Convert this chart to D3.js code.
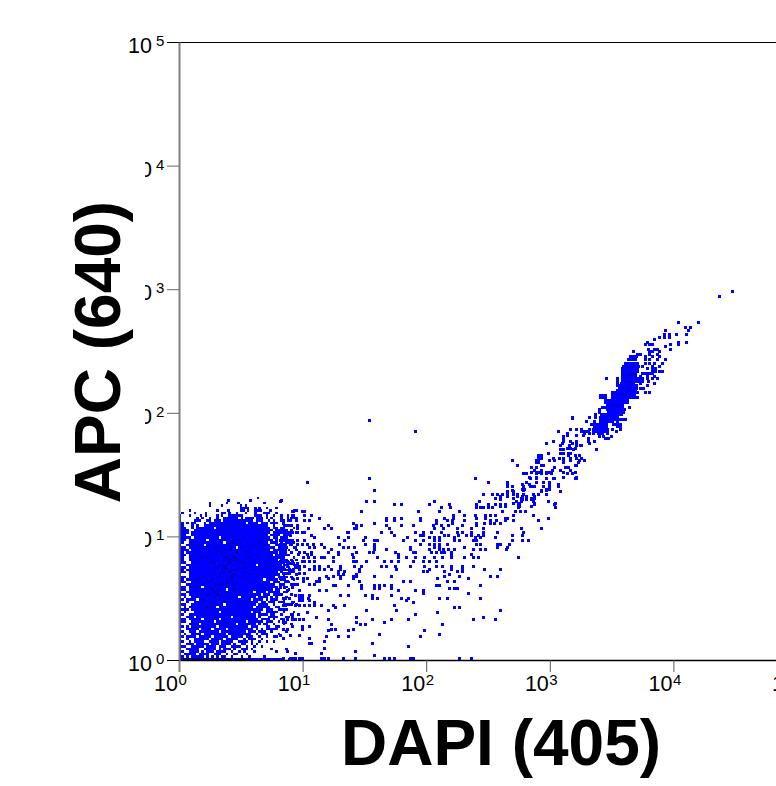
<!DOCTYPE html>
<html>
<head>
<meta charset="utf-8">
<script src="https://cdn.jsdelivr.net/npm/d3@7"></script>
<style>
  html, body { margin: 0; padding: 0; background: #fff; }
  svg { display: block; }
  text { font-family: "Liberation Sans", Arial, sans-serif; fill: #000; }
</style>
</head>
<body>
<div id="chart"></div>
<script>
// every value is log10 of the intensity
// row format: [log APC, log DAPI or [from, to] run of channels, ...]
var xTicks = [0, 1, 2, 3, 4, 5];
var yTicks = [0, 1, 2, 3, 4, 5];
var xTitle = "DAPI (405)";
var yTitle = "APC (640)";

// the big population near the origin
var blobRows = [
  [1.30,.63],[1.28,.39,.57,.82],[1.26,.24,.38,.47,.68],[1.24,.24,.34,.49,.53],
  [1.22,[.49,.55],.61,.64,.70,.78],[1.20,.08,.30,.39,.49,.51,.55,[.61,.65],.73,[.92,.94]],
  [1.18,.02,.12,.21,.34,.36,.40,.46,.53,.61,[.68,.72],.78],
  [1.16,0,.08,.17,.21,.30,.34,[.40,.44],[.46,.50],[.61,.65],.70,.76,.82,.87,.92],
  [1.14,0,.14,.18,.24,.30,[.36,.38],[.40,.46],.50,[.53,.59],[.62,.66],.70,.74,.82,.87,[.90,.94]],
  [1.12,0,[.12,.14],.16,[.22,.24],[.28,.32],[.36,.58],[.62,.66],.72,.76,.82,.87,.94],
  [1.10,[0,.02],.06,[.10,.12],.20,[.24,.34],[.36,.52],[.56,.62],[.66,.70],[.74,.78]],
  [1.08,[0,.02],.10,.14,[.20,.30],[.32,.60],[.62,.70],.76,[.84,.90]],
  [1.06,[0,.04],.10,[.14,.26],[.30,.48],[.50,.72],[.76,.78],[.82,.84],.92],
  [1.04,[0,.06],[.12,.34],[.36,.68],[.70,.74],[.78,.86],.90],
  [1.02,[0,.06],[.10,.44],[.46,.64],[.66,.72],[.76,.80],[.84,.90],.94],
  [1.00,[0,.02],.04,[.10,.70],[.74,.80],[.84,.88]],
  [.98,[0,.08],[.12,.30],[.34,.62],[.64,.72],[.76,.78],[.82,.86]],
  [.96,[0,.04],[.08,.20],[.24,.52],[.54,.74],.78,.82,[.86,.88]],
  [.94,[0,.02],[.08,.34],[.38,.70],[.74,.78],.82,[.86,.92]],
  [.92,0,[.06,.18],[.22,.60],[.62,.72],[.78,.84],.90],
  [.90,[0,.04],[.08,.44],[.48,.66],[.68,.76],[.80,.86],.92],
  [.88,[0,.06],[.10,.28],[.30,.72],[.76,.82],.88,.94],
  [.86,[0,.02],[.06,.14],[.16,.56],[.58,.78],.84,.90],
  [.84,[0,.04],[.08,.38],[.40,.74],[.78,.82],[.86,.88]],
  [.82,[0,.02],[.08,.24],[.26,.70],[.72,.80],.84,.92],
  [.80,[0,.02],[.08,.50],[.52,.78],[.82,.86],.90,.94],
  [.78,[0,.04],[.10,.32],[.34,.74],[.76,.84],.88],
  [.76,0,[.06,.18],[.20,.60],[.64,.80],[.84,.86],[.92,.94]],
  [.74,[0,.04],[.08,.44],[.46,.76],[.78,.84],.88,.94],
  [.72,[0,.02],[.06,.26],[.28,.70],[.72,.82],[.86,.90]],
  [.70,[0,.04],[.08,.14],[.16,.54],[.56,.78],.82,[.88,.92]],
  [.68,0,[.08,.36],[.38,.72],[.74,.80],.84,.94],
  [.66,[0,.04],[.08,.22],[.24,.62],[.64,.76],[.80,.86],.90],
  [.64,[0,.02],[.06,.44],[.46,.66],[.70,.78],[.82,.84],.92],
  [.62,[0,.04],[.10,.30],[.32,.72],[.76,.80],[.86,.88]],
  [.60,0,[.06,.16],[.18,.54],[.56,.68],[.70,.76],.82,[.90,.94]],
  [.58,[0,.04],[.08,.16],[.20,.40],[.42,.70],[.72,.78],[.84,.86]],
  [.56,[0,.02],.04,[.08,.36],[.40,.62],[.64,.74],[.78,.80],.88],
  [.54,0,[.06,.24],[.28,.58],[.62,.68],[.72,.80],[.84,.86]],
  [.52,[0,.04],[.08,.18],[.20,.50],[.52,.64],[.68,.72],[.76,.82],.90],
  [.50,0,.04,[.10,.34],[.36,.46],[.50,.60],[.64,.70],.74,.78,.86],
  [.48,[0,.02],[.06,.12],[.16,.42],[.44,.56],[.60,.66],.70,[.74,.78],.84],
  [.46,0,.06,[.12,.28],[.30,.54],[.56,.62],[.66,.68],[.72,.76],[.80,.84],.92],
  [.44,[0,.04],[.10,.34],[.38,.50],[.52,.60],[.64,.70],.76,[.84,.90],.94],
  [.42,0,.04,[.08,.14],[.16,.28],[.32,.58],[.62,.72],[.78,.80]],
  [.40,[0,.06],[.10,.24],[.26,.42],[.44,.66],[.70,.74],[.80,.86]],
  [.38,0,.04,[.12,.30],[.34,.48],[.50,.56],[.60,.64],[.70,.78],.84,.92],
  [.36,[0,.02],[.08,.20],[.22,.46],[.48,.60],[.64,.70],[.74,.76],.82,.90],
  [.34,0,[.06,.10],[.14,.40],[.44,.60],.64,[.72,.78],.86,.88],
  [.32,[0,.02],.04,[.08,.16],[.20,.30],[.34,.62],[.66,.72],.76,.82,.92],
  [.30,[0,.04],[.10,.26],[.30,.44],[.46,.52],[.56,.66],[.70,.74],.80],
  [.28,0,[.08,.14],[.18,.34],[.36,.44],[.48,.60],.64,[.68,.70],.76,.84,.90],
  [.26,[0,.02],.06,[.10,.16],[.18,.28],[.32,.40],[.42,.54],[.58,.62],[.70,.72],[.78,.80]],
  [.24,0,[.06,.14],[.18,.24],[.28,.36],[.40,.58],.62,.66,[.70,.78]],
  [.22,[0,.02],[.08,.12],[.16,.30],[.34,.44],[.46,.52],[.56,.60],[.64,.68],.74,.86],
  [.20,0,.04,[.10,.16],[.20,.26],[.28,.36],[.40,.44],[.46,.56],.62,[.66,.70],.80],
  [.18,[0,.02],[.06,.12],[.16,.24],[.28,.38],[.42,.50],[.54,.58],.64,.70,[.76,.78]],
  [.16,0,.06,[.12,.22],[.26,.34],[.38,.46],.52,[.56,.60],.66],
  [.14,[0,.02],.08,[.12,.18],[.24,.30],[.34,.42],[.48,.54],.58,.64,.70,.76],
  [.12,0,[.06,.10],[.14,.22],[.26,.30],[.34,.40],.44,[.50,.52],.58,.62],
  [.10,[0,.02],.04,[.10,.18],[.22,.28],[.32,.36],[.42,.48],.54,.60,.66],
  [.08,0,[.06,.14],[.20,.28],.32,[.36,.40],.44,[.50,.54],.58,.74,.86],
  [.06,[0,.02],[.08,.14],.18,[.22,.26],[.30,.36],.42,.48,.52,.60,.78],
  [.04,0,[.04,.12],[.16,.22],[.28,.32],.38,[.44,.46],.54],
  [.02,[0,.02],.06,[.10,.18],.22,.26,.30,[.34,.36],.42,.50,.56,.68],
  [0,[0,.80],.82,[.88,.92]]
];

// overplotted cells, drawn a little darker
var darkRows = [
  [.98,.36,.52],[.96,.30,[.44,.48]],[.94,[.40,.44],.54,.64],[.92,.24,[.46,.48],.60],
  [.90,[.28,.32],.50,[.56,.58]],[.88,.22,[.36,.40],.46,.68],[.86,[.30,.34],[.52,.56]],
  [.84,.26,.42,[.48,.50],.62],[.82,[.18,.22],[.36,.38],[.54,.56]],[.80,.30,[.40,.46],.60],
  [.78,.14,[.24,.28],[.48,.52]],[.76,[.34,.38],.44,.56],[.74,.20,[.28,.30],[.50,.54]],
  [.72,[.38,.42],.46,.60],[.70,.16,[.24,.26],[.34,.36],.52],[.68,[.42,.46],.56],
  [.66,.20,[.30,.32],[.48,.50]],[.64,[.14,.16],.26,[.38,.42],.54],[.62,[.22,.24],.34,.46],
  [.60,.18,[.28,.32],[.42,.44],.50],[.58,.12,.24,.38],[.56,[.18,.20],[.30,.32],.44],
  [.54,.14,[.26,.28],.40],[.52,[.22,.24],.34,.48],[.50,.12,.28,.38],[.48,[.18,.20],.32],
  [.46,.24,[.36,.38]],[.44,.16,.30],[.42,.22,.26],[.38,.16,.36],
  [2.36,[3.60,3.66]],[2.30,[3.62,3.68]],[2.24,[3.60,3.66]],[2.14,[3.54,3.60]],[2.05,[3.48,3.54]]
];

// the few darkest spots in the middle of the population
var coreRows = [
  [.90,.42],[.86,.46],[.82,.44],[.80,.36],[.78,.40],[.74,.36],[.72,.44],[.70,.40],
  [.68,.32],[.66,.42],[.62,.38],[.60,.34],[.56,.26],[.52,.30]
];

// the pile-up against both axes, darkest of all
var edgeRows = [
  [1.16,0],[1.14,0],[1.12,0],[1.10,0],[1.08,0],[1.06,0],[1.04,0],[1.02,0],[1.00,0],[.98,0],[.96,0],
  [.94,0],[.92,0],[.90,0],[.88,0],[.86,0],[.84,0],[.82,0],[.80,0],[.78,0],[.76,0],[.74,0],[.72,0],
  [.70,0],[.68,0],[.66,0],[.64,0],[.62,0],[.60,0],[.58,0],[.56,0],[.54,0],[.52,0],[.50,0],[.48,0],
  [.46,0],[.44,0],[.42,0],[.40,0],[.38,0],[.36,0],[.34,0],[.32,0],[.30,0],[.28,0],[.26,0],[.24,0],
  [.22,0],[.20,0],[.18,0],[.16,0],[.14,0],[.12,0],[.10,0],[.08,0],[.06,0],[.04,0],[.02,0],[0,[0,.56]]
];

// the tight cluster on the way up
var clusterRows = [
  [2.43,[3.635,3.695]],[2.40,[3.61,3.715]],[2.375,[3.595,3.715]],[2.36,[3.59,3.715]],[2.335,[3.59,3.715]],
  [2.32,[3.59,3.70],[3.75,3.845]],[2.295,[3.59,3.70]],[2.28,[3.59,3.755]],[2.255,[3.59,3.755]],
  [2.24,[3.58,3.69]],[2.22,[3.56,3.715]],[2.195,[3.56,3.715]],[2.18,[3.55,3.70]],[2.165,[3.51,3.725]],
  [2.14,[3.41,3.465],[3.505,3.69]],[2.125,[3.41,3.465],[3.505,3.69]],[2.10,[3.45,3.645]],[2.085,[3.45,3.645]],
  [2.07,[3.465,3.595]],[2.045,[3.43,3.595]],[2.03,[3.465,3.61]],[2.00,[3.475,3.595]],[1.985,[3.42,3.595]],
  [1.96,[3.41,3.56]],[1.945,[3.41,3.62]],[1.93,[3.41,3.52]],[1.905,[3.34,3.475],[3.515,3.585]],
  [1.89,[3.36,3.475],[3.55,3.585]],[1.865,[3.35,3.475]],[1.85,[3.255,3.33],[3.35,3.475]],[1.835,[3.39,3.435]]
];

// single events, everything else
var scatterRows = [
  [2.98,4.48],[2.94,4.37],[2.73,4.04,4.20],[2.69,4.10,4.14],[2.665,3.94,4.12],[2.635,3.93,3.97,4.025,4.105],
  [2.61,3.885,3.93,3.97],[2.595,3.845],[2.57,3.79,4.04,4.105],[2.555,3.775,3.805,3.83,3.98,4.04],[2.54,3.94],
  [2.515,3.80,3.845,3.87,3.98],[2.50,3.675,3.805,3.83,3.885],[2.475,3.71,3.73,3.805,3.87],
  [2.455,3.65,3.675,3.70,3.775,3.83,3.885],[2.43,3.775,3.805,3.87,3.94],[2.40,3.775,3.81,3.845,3.91],
  [2.375,3.75,3.83,3.885],[2.36,3.79,3.83,3.855],[2.335,3.83,3.855,3.885,3.91],[2.295,3.73,3.79,3.845],
  [2.28,3.46,3.55,3.79,3.83,3.87],[2.255,3.55,3.80],[2.24,3.55,3.73,3.845],[2.22,3.55,3.79],[2.195,3.73,3.755],
  [2.165,3.775,3.805],[2.125,3.71],[2.045,3.645],[2.03,3.40],[2.00,3.40],[1.985,3.37],[1.96,3.18,3.32,3.37],
  [1.965,3.32],[1.95,3.18],[1.93,3.30,3.36,3.55],[1.865,3.166,3.22,3.26,3.32,3.505,3.57],
  [1.85,3.07,3.26,3.30,3.54],[1.835,3.14,3.28,3.32,3.35,3.465],[1.82,3.14,3.22,3.27],[1.81,3.11,3.40,3.435,3.50],
  [1.795,3.11,3.31,3.45,3.475],[1.77,3.03,3.11,3.17,3.22,3.31,3.36],[1.755,2.97,3.10,3.18,3.22,3.32],
  [1.735,3.085,3.16,3.22,3.245,3.26],[1.71,3.14,3.16,3.17,3.21],[1.70,3.085,3.11,3.19,3.375],
  [1.67,2.99,3.085,3.11,3.15,3.17],[1.655,2.91,2.93,3.15,3.205,3.24],[1.63,2.91,2.93,3.03,3.08,3.11,3.17,3.22,3.26],
  [1.615,2.70,2.89,2.91,3.0,3.04,3.11,3.165,3.24,3.28],[1.60,2.89,2.91,3.11,3.23],[1.575,2.74,2.93,2.95,3.205,3.22],
  [1.56,2.85,2.89,3.04,3.125,3.15],[1.535,2.875,2.93,3.02,3.085,3.165],[1.52,2.85,2.89,2.915,2.93,2.97,3.0,3.11,3.205],
  [1.51,2.80,2.89,2.93,2.97,3.01],[1.505,2.79,2.81,2.89,3.14,3.18],[1.48,2.835,2.89,3.11,3.22],
  [1.47,2.40,2.84,2.89,2.97,3.04],[1.465,2.97,3.03,3.205,3.22],[1.44,2.50,2.66,2.81,2.89,2.95,3.0],
  [1.42,2.655,2.78,2.835,3.0,3.07],[1.40,2.66,2.70,2.79,2.84,2.85,2.875,2.88,2.95,3.0,3.07],
  [1.38,2.78,2.795,2.97,3.0],[1.37,2.70,2.79,2.93,2.97],[1.365,2.655,2.71,2.93,3.085],
  [1.34,2.46,2.54,2.58,2.62,2.66,2.71,2.735,2.74,2.79,2.87,2.905,2.91,2.97],[1.32,2.60,2.655,2.735,2.78,2.81,2.875],
  [1.31,2.56,2.60,2.71,2.77,2.81,2.85,2.88],[1.30,2.60,2.78,2.81,2.85],[1.285,2.99],[1.28,2.07,2.43,2.73,2.77,2.87,2.99],
  [1.27,2.71,2.755,2.875,3.045],[1.255,1.74,1.80,2.03,2.19,2.41,2.50,2.56,2.60,2.64,2.75,2.88,3.04],
  [1.245,2.60,2.64,2.755,2.85],[1.23,2.12,2.20,2.41,2.44,2.46,2.50,2.54,2.75,3.045],
  [1.20,1.48,1.94,2.11,2.27,2.62,2.72,2.76,2.80,.92,.93,.998,1.015],[1.17,2.22,2.31,2.40,2.48,2.52,2.56,2.71,2.87,.92,1.015,1.07],
  [1.145,1.68,1.74,1.80,1.95,2.15,2.22,2.41,2.48,2.64,2.66,2.99,1.135],
  [1.13,.845,.90,1.015,1.055],[1.125,1.68,1.74,1.95,2.08,2.17,2.21,2.31,2.52,2.57,2.64,2.71,2.91],
  [1.105,1.41,1.58,2.08,2.21,2.41,2.47,2.52,2.55,2.60,.845],[1.09,.87,.90,.955],
  [1.085,1.21,1.44,1.48,1.68,1.80,1.90,2.06,2.12,2.18,2.29,2.41],
  [1.065,1.18,1.23,1.42,1.44,1.70,2.07,2.14,2.25,2.37,2.46,2.77,2.93,.955,1.05],
  [1.03,1.36,1.37,1.64,1.72,1.91,1.98,2.04,2.12,2.25,2.29,2.37,2.46,2.58,2.79,.82,.845,.86,.915,.955,.998,1.015],
  [1.01,.90,1.07],[1.005,1.74,1.95,1.98,2.15,2.18,2.26,2.33,2.37,2.42,2.46,2.70,2.78],
  [.99,1.29,1.37,1.51,1.85,2.03,2.07,2.11,2.23,2.40,2.44,2.56,.835,1.095],
  [.965,1.34,1.49,1.585,1.605,1.815,1.91,1.98,2.07,2.11,2.23,2.27,2.38,2.41,2.70,2.78,2.83,.82,.845,.87,.90,.915,.955,1.015],
  [.935,1.15,1.30,1.505,1.585,1.95,2.03,2.07,2.11,2.17,2.41,2.44,2.58,2.60,2.67,.82,.835,.86,.90,.955,.998,1.04,1.09],
  [.91,1.18,1.33,1.37,1.42,1.58,1.87,2.07,2.11,2.31,2.58,2.66,.82,.845,.86,.94,1.055,1.095],
  [.895,1.23,1.58,1.68,1.875,2.03,2.11,2.14,2.18,2.23,2.38,2.44,2.48,2.65,.82,.845,.86],
  [.87,1.21,1.29,1.44,1.545,1.57,1.755,1.895,1.915,2.04,2.08,2.12,2.15,2.205,.82,.845,.86,.975,1.015,1.07],
  [.855,1.29,1.40,1.775,2.205,2.37,.835,.85,.965,1.04,1.07],
  [.83,1.15,1.18,1.25,1.41,1.605,1.775,1.84,1.91,1.99,2.07,2.13,2.205,2.31,2.38,2.42,2.75,.82,.845,1.005,1.045,1.095],
  [.80,1.25,1.41,1.44,1.52,1.66,1.72,1.775,1.895,1.98,2.03,2.085,.82,.86,.875,.915,.998,1.015,1.055,1.095],
  [.78,.82,.875,.90,.93,.955],[.758,1.21,1.31,1.42,1.48,1.64,1.68,1.755,1.87,1.99,2.08,2.13,2.205,2.29,2.38,.82,.875,.94,.975,1.015,1.095,1.135],
  [.735,1.18,1.23,1.31,1.46,1.76,2.03,2.205,2.29,2.475,2.60,.82,.85,.89,.93,.975,1.055,1.095,1.135],
  [.715,1.29,1.34,1.46,1.98,2.01,2.15,2.25,2.29],[.70,.845,.87,.89,.975,1.015],[.695,1.29,1.33,1.44,2.19],
  [.675,1.195,1.25,1.31,1.41,1.44,1.58,1.72,2.15,2.27,2.52,2.575],
  [.66,1.21,1.31,1.41,2.09,2.34,.82,.85,.915,.955,1.005,1.04,1.135],[.635,1.46,1.815,1.87,2.17,2.23,.86,.875,1.005,1.11,1.135],
  [.61,.82,.845,.955,1.055,1.10],[.605,1.25,1.27,1.37,1.48,1.58,1.62,1.66,1.72,2.08,2.11,2.44],[.59,.82,.85,.915],
  [.58,1.48,1.58,1.62,1.72,2.19,2.23,2.25],[.565,.875,.975,1.135],[.56,1.19,1.775,1.91,1.98],[.54,1.98,2.34],
  [.52,1.31,1.37,1.51,1.565,1.72,.94,.975,.998,1.055],[.50,1.565,1.605,1.80,1.855,2.11,2.17,2.44,.845,.86,.89,.975,.998,1.045],
  [.48,1.84,.975,.998,1.055],[.465,1.895,.915,1.095],[.44,1.15,1.25,1.34,1.74,.845,.86,.94,.975,1.015,1.055,1.095],
  [.425,1.27,2.23,2.27],[.40,1.21,1.52,1.76,2.60],[.385,2.09,1.04],[.37,1.91,.915,.965],[.345,1.44,2.46,.915,1.11],
  [.33,1.21,1.565,1.72,1.855,2.38,2.56,.845,.875,.915,.94,.975,1.005],[.305,1.44,1.66],[.30,.845,.86],
  [.29,1.23,1.47,1.51,2.13],[.275,.915,.998,1.055],[.25,1.23,1.27,1.41,.845,.875,.998],[.235,1.21,1.37,1.99],
  [.21,1.62,2.11],[.195,.82,.90,.975],[.19,1.19,1.29,1.37,1.95],[.17,.845,1.055],[.15,1.18],[.135,1.565,1.055,1.07],
  [.11,1.855],[.095,1.18],[.07,1.43,.875],[.055,1.15,.94],[.04,1.58],
  [.015,1.15,1.18,1.21,1.33,1.43,1.66,1.70,1.74,1.87,1.895,2.27,2.365,.845,.90,.915,.94,.975,.998],
  [1.94,1.545],[1.85,1.91],[1.465,1.54],[1.44,1.04],[1.37,1.58],[1.28,1.52,1.58,.82]
];

var width = 776, height = 786;
var cell = 3;
var channel = 0.02; // decades per channel

var svg = d3.select("#chart").append("svg")
    .attr("width", width)
    .attr("height", height);

var x = d3.scaleLog().domain([1, 1e5]).range([179, 797]);
var y = d3.scaleLog().domain([1, 1e5]).range([660, 42]);
var px = v => Math.round(x(Math.pow(10, v)));
var py = v => Math.round(y(Math.pow(10, v)));

// expand [y, x or [from,to], ...] rows into single cells
function cells(rows) {
  var out = [];
  rows.forEach(function(r) {
    r.slice(1).forEach(function(s) {
      if (Array.isArray(s)) {
        for (var v = s[0]; v <= s[1] + 0.001; v += channel) out.push([v, r[0]]);
      } else {
        out.push([s, r[0]]);
      }
    });
  });
  return out;
}

// binned rows fill their whole channel, so one empty channel stays a visible hole
function drawBins(rows, fill) {
  svg.append("g").selectAll("rect")
    .data(cells(rows))
    .join("rect")
      .attr("x", d => px(d[0]))
      .attr("y", d => py(d[1] + channel))
      .attr("width", d => px(d[0] + channel) - px(d[0]))
      .attr("height", d => py(d[1]) - py(d[1] + channel))
      .attr("fill", fill);
}

function drawEvents(rows, fill) {
  svg.append("g").selectAll("rect")
    .data(cells(rows))
    .join("rect")
      .attr("x", d => Math.round(x(Math.pow(10, d[0])) - cell / 2))
      .attr("y", d => Math.round(y(Math.pow(10, d[1])) - cell / 2))
      .attr("width", cell)
      .attr("height", cell)
      .attr("fill", fill);
}

drawBins(blobRows, "#0000ff");
drawEvents(clusterRows, "#0000ff");
drawEvents(scatterRows, "#0000ff");
drawBins(darkRows, "#0000d8");
drawBins(coreRows, "#0000b0");
drawBins(edgeRows, "#00008c");

// frame
svg.append("line")
    .attr("x1", x(1)).attr("x2", x(1e5))
    .attr("y1", y(1e5) + 0.5).attr("y2", y(1e5) + 0.5)
    .attr("stroke", "#000");

var xAxis = svg.append("g")
    .attr("transform", `translate(0,${y(1)})`)
    .call(d3.axisBottom(x).tickValues(xTicks.map(d => Math.pow(10, d))).tickFormat("").tickSize(12).tickSizeOuter(0));
xAxis.select(".domain").attr("stroke", "#000").attr("stroke-width", 1.5);
xAxis.selectAll(".tick line").attr("stroke", "#555").attr("stroke-width", 1);
xAxis.selectAll(".tick").filter((d, i) => i === 0).select("line").attr("stroke", "#808080").attr("stroke-width", 2);

var yAxis = svg.append("g")
    .attr("transform", `translate(${x(1)},0)`)
    .call(d3.axisLeft(y).tickValues(yTicks.map(d => Math.pow(10, d))).tickFormat("").tickSize(12).tickSizeOuter(0));
yAxis.select(".domain").attr("stroke", "#808080").attr("stroke-width", 2);
yAxis.selectAll(".tick line").attr("stroke", "#666").attr("stroke-width", 1);
yAxis.selectAll(".tick").filter(d => d === 1 || d === 1e5).select("line").attr("stroke", "#000");

// tick labels, the middle y labels are cut off at the left in the original
svg.append("clipPath").attr("id", "midLabels")
  .append("rect").attr("x", 145).attr("y", 0).attr("width", 40).attr("height", height);

xTicks.forEach(function(t) {
  var tx = x(Math.pow(10, t));
  var g = svg.append("g");
  g.append("text").attr("x", tx - 1).attr("y", 691).attr("text-anchor", "end")
    .style("font-size", "21.5px").text("10");
  g.append("text").attr("x", tx - 0.5).attr("y", 685)
    .style("font-size", "15px").text(t);
});

yTicks.forEach(function(t) {
  var ty = y(Math.pow(10, t));
  var g = svg.append("g");
  if (t > 0 && t < 5) g.attr("clip-path", "url(#midLabels)");
  g.append("text").attr("x", 152).attr("y", ty + 11).attr("text-anchor", "end")
    .style("font-size", "21.5px").text("10");
  g.append("text").attr("x", 156).attr("y", ty + 4)
    .style("font-size", "15px").text(t);
});

// axis titles
svg.append("text")
    .attr("x", 501).attr("y", 765)
    .attr("text-anchor", "middle")
    .style("font-size", "64px").style("font-weight", "bold")
    .text(xTitle);
svg.append("text")
    .attr("transform", "translate(120,352)rotate(-90)")
    .attr("text-anchor", "middle")
    .style("font-size", "64px").style("font-weight", "bold")
    .text(yTitle);
</script>
</body>
</html>
